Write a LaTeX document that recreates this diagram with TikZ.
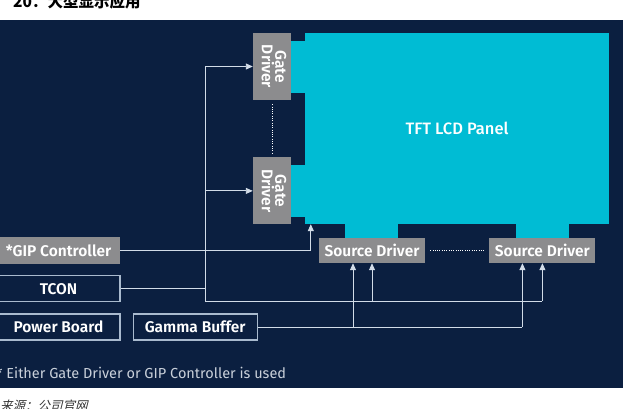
\documentclass[tikz,border=0pt]{standalone}
\usepackage{fontspec}
\setmainfont{Fira Sans}[BoldFont={Fira Sans SemiBold}]
\newfontfamily\mediumfont{Fira Sans Medium}
\newfontfamily\cjk{Noto Sans CJK SC}
\newfontfamily\cjkslant{Noto Sans CJK SC}[FakeSlant=0.25]
\usetikzlibrary{positioning, arrows.meta, calc}
\definecolor{navy}{HTML}{0B1F40}
\definecolor{panelcyan}{HTML}{00BCD4}
\definecolor{chipgray}{HTML}{8C8C8E}
\definecolor{boxborder}{HTML}{A9BACE}
\definecolor{wirecol}{HTML}{D2DCE8}
\definecolor{notegray}{HTML}{C9D0DA}

\begin{document}
\begin{tikzpicture}[
    x=1pt, y=-1pt,
    >={Triangle[length=7pt, width=6pt]},
    panel/.style={fill=panelcyan, minimum width=304pt, minimum height=191pt, inner sep=0pt,
                  text=white, font=\mediumfont\fontsize{16.5}{19}\selectfont},
    chip/.style={fill=chipgray, inner sep=0pt, text=white, font=\fontsize{15.5}{17}\selectfont\bfseries},
    gatebox/.style={chip, minimum width=38pt, minimum height=67pt},
    srcbox/.style={chip, minimum width=106pt, minimum height=25pt},
    sysbox/.style={draw=boxborder, line width=1.2pt, minimum width=123pt, minimum height=26pt,
                   inner sep=0pt, text=white, font=\fontsize{15.5}{17}\selectfont\bfseries},
    wire/.style={draw=wirecol, line width=0.9pt},
    arrow/.style={wire, ->},
    dotline/.style={white, line width=1pt, dash pattern=on 1pt off 1.3pt},
    note/.style={inner sep=0pt, text=notegray, font=\fontsize{14.5}{17}\selectfont},
]
\useasboundingbox (0,0) rectangle (623,408);

% ============================================================
% Page: title, dark background, source line
% ============================================================
\node[inner sep=0pt, anchor=base west, font=\cjk\bfseries\fontsize{15.5}{18}\selectfont] (title) at (13,7) {20：大型显示应用};
\fill[navy] (0,20) rectangle (623,388);
\node[inner sep=0pt, anchor=base west, text=black!80, font=\cjkslant\fontsize{12.5}{15}\selectfont] (source) at (0,410) {来源：公司官网};

% ============================================================
% TFT panel with its gate / source drivers
% ============================================================
\node[panel] (panel) at (457,128.5) {TFT LCD Panel};

% tabs joining the drivers to the glass
\fill[panelcyan] (290,41) rectangle (306,93);
\fill[panelcyan] (290,165) rectangle (306,217);
\fill[panelcyan] (345,223) rectangle (398,239);
\fill[panelcyan] (516,223) rectangle (569,239);

\node[gatebox] (gd1) at (272,66.5) {\rotatebox{-90}{\begin{tabular}{@{}c@{}}Gate\\[-4pt]Driver\end{tabular}}};
\node[gatebox, below=57pt of gd1] (gd2) {\rotatebox{-90}{\begin{tabular}{@{}c@{}}Gate\\[-4pt]Driver\end{tabular}}};
\draw[dotline] ([yshift=-4pt]gd1.south) -- ([yshift=4pt]gd2.north);

\node[srcbox] (sd1) at (372,250.5) {Source Driver};
\node[srcbox, right=64pt of sd1] (sd2) {Source Driver};
\draw[dotline] ([xshift=5pt]sd1.east) -- ([xshift=-4pt]sd2.west);

% ============================================================
% Boards on the left
% ============================================================
\node[chip, minimum width=123pt, minimum height=27pt] (gip) at (58.5,250.5) {*GIP Controller};
\node[sysbox, below=11pt of gip] (tcon) {TCON};
\node[sysbox, below=11pt of tcon] (power) {Power Board};
\node[sysbox, minimum width=124pt, right=12pt of power] (gamma) {Gamma Buffer};

\node[note, anchor=west] (note) at (-4,373) {* Either Gate Driver or GIP Controller is used};

% ============================================================
% Connections
% ============================================================
\coordinate (gipin) at ([xshift=6pt]panel.south west);
\draw[arrow] (gip.east) -| (gipin);

% TCON bus
\coordinate (tbus) at (205,301);
\draw[wire] (tcon.east) -- (tcon.east -| tbus);
\draw[wire] (gd1.west -| tbus) -- (tbus) -- (sd2.south |- tbus);
\draw[arrow] (gd1.west -| tbus) -- (gd1.west);
\draw[arrow] (gd2.west -| tbus) -- (gd2.west);
\draw[arrow] (sd1.south |- tbus) -- (sd1.south);
\draw[arrow] (sd2.south |- tbus) -- (sd2.south);

% gamma references
\draw[wire] (gamma.east) -- ([xshift=-20pt]sd2.south |- gamma.east);
\draw[arrow] ([xshift=-19pt]sd1.south |- gamma.east) -- ([xshift=-19pt]sd1.south);
\draw[arrow] ([xshift=-20pt]sd2.south |- gamma.east) -- ([xshift=-20pt]sd2.south);

\end{tikzpicture}
\end{document}
